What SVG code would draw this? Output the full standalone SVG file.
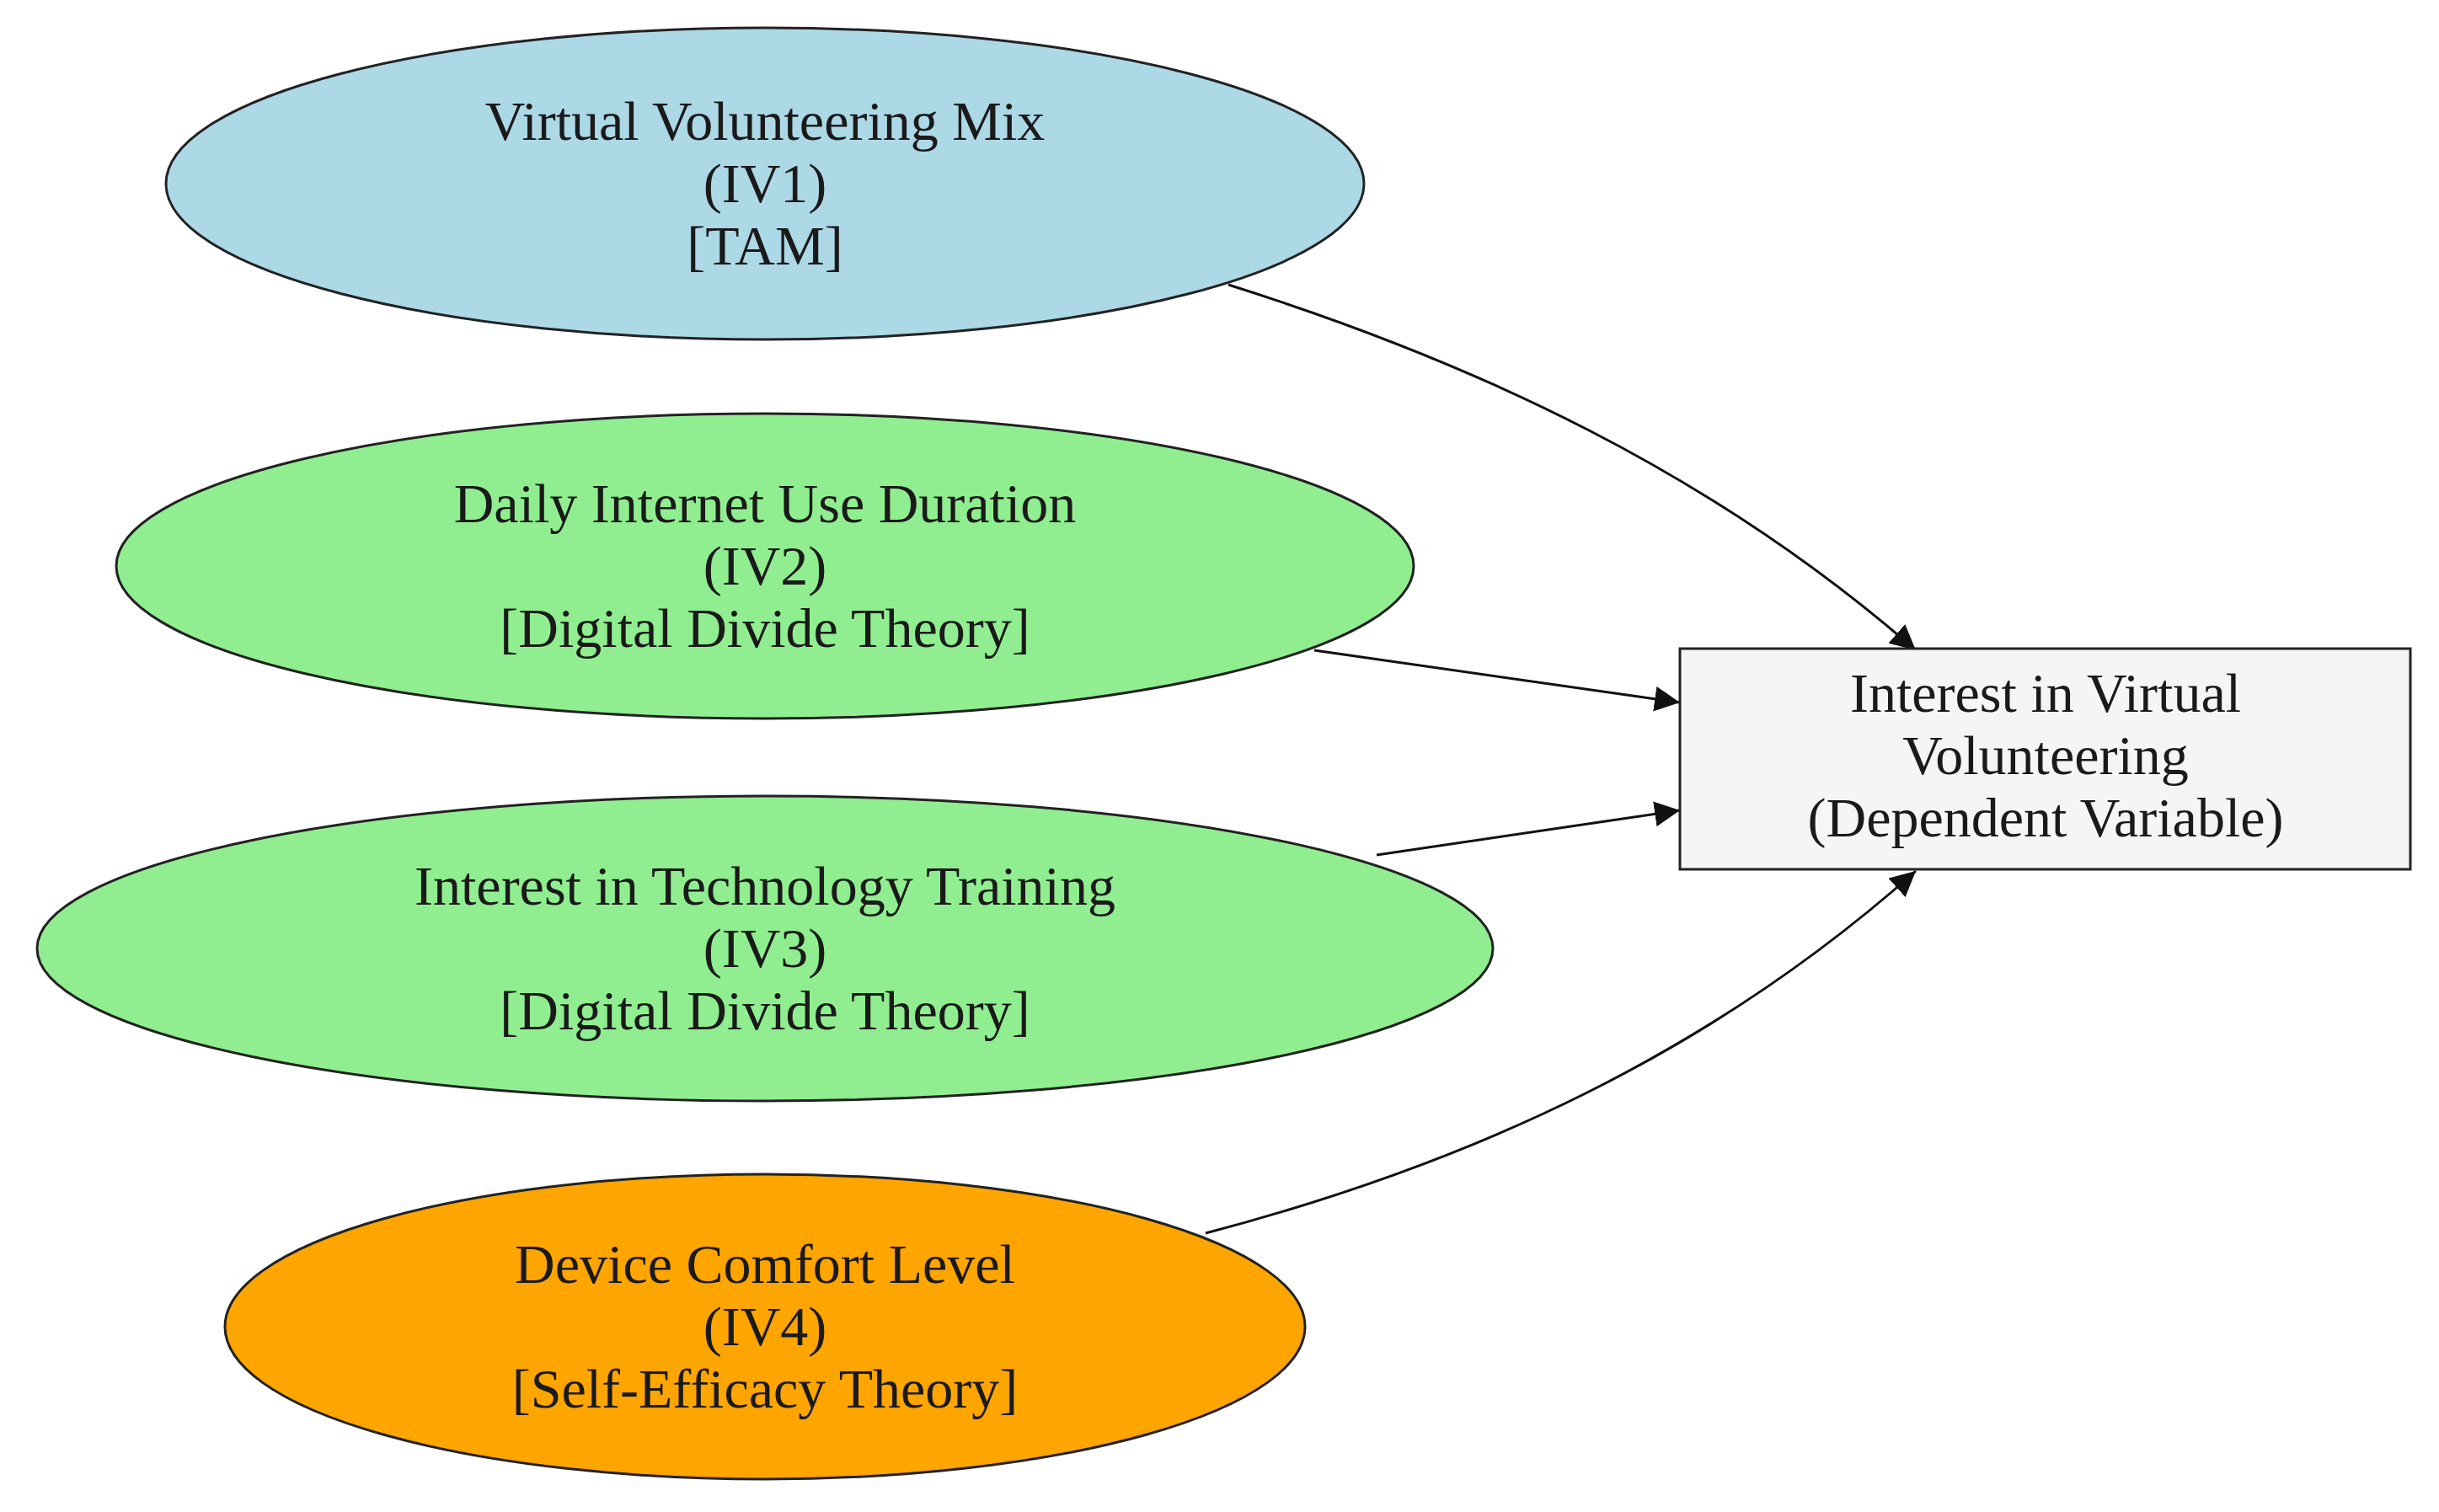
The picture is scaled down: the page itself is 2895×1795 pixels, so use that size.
<svg xmlns="http://www.w3.org/2000/svg" width="2895" height="1795" viewBox="0 0 2895 1795">
<style>
.n{stroke:#222;stroke-width:3}
.t{font-family:"Liberation Serif",serif;font-size:66px;fill:#1a1a1a;text-anchor:middle}
.e{fill:none;stroke:#111;stroke-width:3;marker-end:url(#a)}
</style>
<defs><marker id="a" viewBox="0 0 10 10" refX="10" refY="5" markerWidth="20" markerHeight="20" markerUnits="userSpaceOnUse" orient="auto"><path d="M0,0L10,5L0,10z" fill="#111"/></marker>
</defs>
<defs><marker id="b" viewBox="0 0 10 10" refX="10" refY="5" markerWidth="10" markerHeight="10" orient="auto"><path d="M0,0L10,5L0,10z" fill="#111"/></marker></defs>
<rect width="2895" height="1795" fill="#fff"/>
<g id="connectors">
<path d="M1458,338 C1750,430 2031,560 2274,772" fill="none" stroke="#111" stroke-width="3" marker-end="url(#b)"/>
<path d="M1560,772 L1994,834" fill="none" stroke="#111" stroke-width="3" marker-end="url(#b)"/>
<path d="M1634,1015 L1994,962" fill="none" stroke="#111" stroke-width="3" marker-end="url(#b)"/>
<path d="M1431,1464 C1750,1380 2031,1250 2274,1034" fill="none" stroke="#111" stroke-width="3" marker-end="url(#b)"/>
</g>
<g id="iv1"><ellipse class="n" cx="908" cy="218" rx="711" ry="185" fill="#add8e6"/>
<text class="t" x="908" y="166">Virtual Volunteering Mix</text><text class="t" x="908" y="240">(IV1)</text><text class="t" x="908" y="314">[TAM]</text></g>
<g id="iv2"><ellipse class="n" cx="908" cy="672" rx="770" ry="181" fill="#90ee90"/>
<text class="t" x="908" y="620">Daily Internet Use Duration</text><text class="t" x="908" y="694">(IV2)</text><text class="t" x="908" y="768">[Digital Divide Theory]</text></g>
<g id="iv3"><ellipse class="n" cx="908" cy="1126" rx="864" ry="181" fill="#90ee90"/>
<text class="t" x="908" y="1074">Interest in Technology Training</text><text class="t" x="908" y="1148">(IV3)</text><text class="t" x="908" y="1222">[Digital Divide Theory]</text></g>
<g id="iv4"><ellipse class="n" cx="908" cy="1575" rx="641" ry="181" fill="#ffa500"/>
<text class="t" x="908" y="1523">Device Comfort Level</text><text class="t" x="908" y="1597">(IV4)</text><text class="t" x="908" y="1671">[Self-Efficacy Theory]</text></g>
<g id="dv"><rect class="n" x="1994" y="770" width="867" height="262" fill="#f5f5f5"/>
<text class="t" x="2428" y="845">Interest in Virtual</text><text class="t" x="2428" y="919">Volunteering</text><text class="t" x="2428" y="993">(Dependent Variable)</text></g>
</svg>
